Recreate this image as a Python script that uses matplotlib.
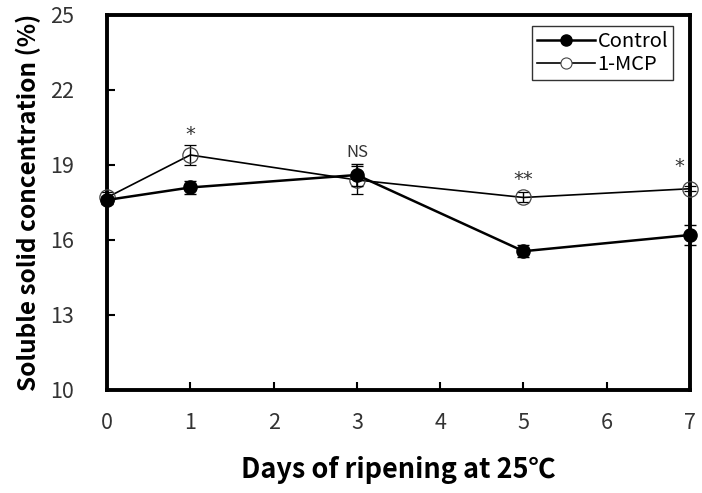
import matplotlib.pyplot as plt
from matplotlib.lines import Line2D

plt.rcParams['font.family'] = ['Noto Sans CJK KR', 'DejaVu Sans']

days = [0, 1, 3, 5, 7]
control = [17.6, 18.1, 18.6, 15.55, 16.2]
control_err = [0.15, 0.25, 0.45, 0.25, 0.4]
mcp = [17.7, 19.4, 18.4, 17.7, 18.05]
mcp_err = [0.2, 0.4, 0.55, 0.2, 0.1]
marks = ["*", "NS", "**", "*"]
mark_days = [1, 3, 5, 7]
mark_y = [20.2, 19.5, 18.4, 18.95]

fig = plt.figure(figsize=(7.02, 4.93), dpi=100)
ax = fig.add_axes([0.1524, 0.209, 0.8306, 0.7606])

ax.errorbar(days, mcp, yerr=mcp_err, color="black", marker="o", markersize=11,
            markerfacecolor="none", markeredgecolor="#444444", markeredgewidth=0.9,
            linewidth=1.2, capsize=4, elinewidth=1, zorder=3, clip_on=False)
ax.errorbar(days, control, yerr=control_err, color="black", marker="o", markersize=9.5,
            markerfacecolor="black", linewidth=1.8, capsize=4, elinewidth=1.2,
            zorder=4, clip_on=False)

for d, t, y in zip(mark_days, marks, mark_y):
    fam = ["DejaVu Sans"] if "*" in t else None
    dx = -8 if d == 7 else 0  # keep the last mark clear of the right spine
    ax.annotate(t, (d, y), xytext=(dx, 0), textcoords="offset points",
                ha="center", va="center", fontsize=14 if fam else 12,
                color="#333333", family=fam, annotation_clip=False)

ax.set_xlim(0, 7)
ax.set_ylim(10, 25)
ax.set_xticks(range(0, 8))
ax.set_yticks([10, 13, 16, 19, 22, 25])
ax.tick_params(direction="in", length=6, width=1.5, labelsize=15.5, labelcolor="#333333")
ax.tick_params(axis="y", pad=24)
ax.tick_params(axis="x", pad=16)
for s in ax.spines.values():
    s.set_linewidth(2.8)

ax.set_xlabel("Days of ripening at 25\u2103", fontsize=19.5, fontweight="bold", labelpad=16)
ax.set_ylabel("Soluble solid concentration (%)", fontsize=17.5, fontweight="bold", labelpad=6)

handles = [
    Line2D([], [], color="black", marker="o", markersize=8, markerfacecolor="black", linewidth=1.8),
    Line2D([], [], color="black", marker="o", markersize=8, markerfacecolor="white",
           markeredgecolor="#444444", markeredgewidth=0.8, linewidth=1.2),
]
leg = ax.legend(handles, ["Control", "1-MCP"], loc="upper right", fontsize=14.5,
                frameon=True, fancybox=False, edgecolor="black", handlelength=2.9,
                handletextpad=0.1, borderpad=0.25, labelspacing=0.1,
                borderaxespad=0, bbox_to_anchor=(0.971, 0.97))
leg.get_frame().set_linewidth(1.0)

fig.savefig("out.png", dpi=100)
